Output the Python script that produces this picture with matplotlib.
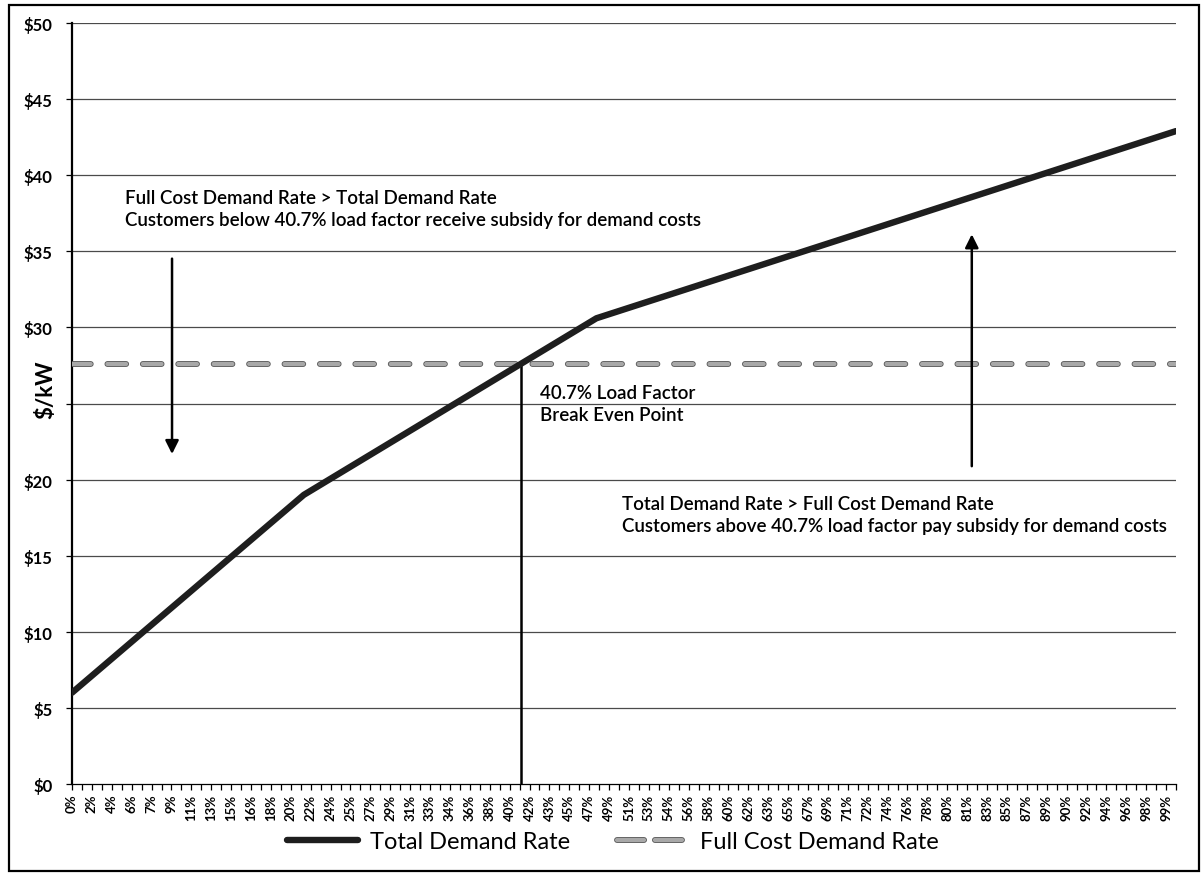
import numpy as np
import matplotlib
matplotlib.use("Agg")
import matplotlib.pyplot as plt
from matplotlib.lines import Line2D
from matplotlib.patches import Rectangle
import matplotlib.patheffects as pe

plt.rcParams['font.family'] = ['Lato', 'DejaVu Sans']

# load factor (%) vs demand rate ($/kW)
load_factor = [0.0, 21.0, 47.5, 100.0]
total_demand_rate = [6.0, 19.0, 30.6, 42.9]
full_cost_rate = 27.6
break_even_lf = 40.7

lf_labels = ['0%', '2%', '4%', '6%', '7%', '9%', '11%', '13%', '15%', '16%',
             '18%', '20%', '22%', '24%', '25%', '27%', '29%', '31%', '33%', '34%',
             '36%', '38%', '40%', '42%', '43%', '45%', '47%', '49%', '51%', '53%',
             '54%', '56%', '58%', '60%', '62%', '63%', '65%', '67%', '69%', '71%',
             '72%', '74%', '76%', '78%', '80%', '81%', '83%', '85%', '87%', '89%',
             '90%', '92%', '94%', '96%', '98%', '99%']
y_ticks = [0, 5, 10, 15, 20, 25, 30, 35, 40, 45, 50]
# the $25 label sits under the axis title
y_labels = ['' if v == 25 else '$%d' % v for v in y_ticks]

dash_style = (0, (4.5, 4.0))
dash_fx = [pe.Stroke(linewidth=4.2, foreground='#555555'), pe.Normal()]

fig = plt.figure(figsize=(12.02, 8.79), dpi=100)
ax = fig.add_axes([0.0599, 0.1069, 0.9185, 0.8658])

# horizontal gridlines
for v in y_ticks[1:]:
    ax.axhline(v, color='#4a4a4a', lw=0.9, zorder=1)

ax.plot(load_factor, total_demand_rate, color='#1e1e1e', lw=4.6,
        solid_capstyle='round', zorder=4)
ax.plot([0, 100], [full_cost_rate, full_cost_rate], color='#a8a8a8', lw=3.0,
        linestyle=dash_style, dash_capstyle='round', zorder=3, path_effects=dash_fx)

note_font = dict(fontsize=13.5, fontweight='semibold', linespacing=1.4)

# break-even marker
ax.plot([break_even_lf, break_even_lf], [0, full_cost_rate], color='black', lw=1.8, zorder=2)
ax.text(42.4, 25.0, '40.7% Load Factor\nBreak Even Point', va='center', ha='left', **note_font)

ax.text(4.8, 37.8, 'Full Cost Demand Rate > Total Demand Rate\n'
        'Customers below 40.7% load factor receive subsidy for demand costs',
        va='center', ha='left', **note_font)
ax.annotate('', xy=(9.06, 21.5), xytext=(9.06, 34.7),
            arrowprops=dict(arrowstyle='-|>', color='black', lw=1.8, mutation_scale=20))

ax.text(49.8, 17.7, 'Total Demand Rate > Full Cost Demand Rate\n'
        'Customers above 40.7% load factor pay subsidy for demand costs',
        va='center', ha='left', **note_font)
ax.annotate('', xy=(81.5, 36.3), xytext=(81.5, 20.7),
            arrowprops=dict(arrowstyle='-|>', color='black', lw=1.8, mutation_scale=20))

ax.set_xlim(0, 100)
ax.set_ylim(0, 50)
step = 100 / 111
ax.set_xticks([2 * i * step for i in range(len(lf_labels))])
ax.set_xticklabels(lf_labels, rotation=90, fontsize=9.5, fontweight='bold')
ax.set_xticks([i * step for i in range(112)], minor=True)
ax.tick_params(axis='x', which='both', length=4, width=0.9, direction='out', pad=3)
ax.set_yticks(y_ticks)
ax.set_yticklabels(y_labels, fontsize=12, fontweight='bold')
ax.tick_params(axis='y', length=4, width=0.9, pad=10)
ax.set_ylabel('$/kW', fontsize=16, fontweight='bold')
ax.yaxis.set_label_coords(-0.0145, 0.519)

for side in ['top', 'right']:
    ax.spines[side].set_visible(False)
ax.spines['left'].set_linewidth(1.6)
ax.spines['bottom'].set_linewidth(0.9)

handles = [
    Line2D([], [], color='#1e1e1e', lw=4.6, solid_capstyle='round'),
    Line2D([], [], color='#a8a8a8', lw=3.0, linestyle=(0, (6.5, 2.6)), dash_capstyle='round',
           path_effects=dash_fx),
]
fig.legend(handles, ['Total Demand Rate', 'Full Cost Demand Rate'], loc='center',
           bbox_to_anchor=(0.51, 0.041), ncol=2, frameon=False, fontsize=17,
           handlelength=3.0, columnspacing=2.0, handletextpad=0.5)

# outer chart frame
fig.patches.append(Rectangle((9 / 1202, 1 - 872 / 879), 1190 / 1202, 866 / 879,
                             transform=fig.transFigure, fill=False, ec='black', lw=1.6))

fig.savefig('out.png', dpi=100)
